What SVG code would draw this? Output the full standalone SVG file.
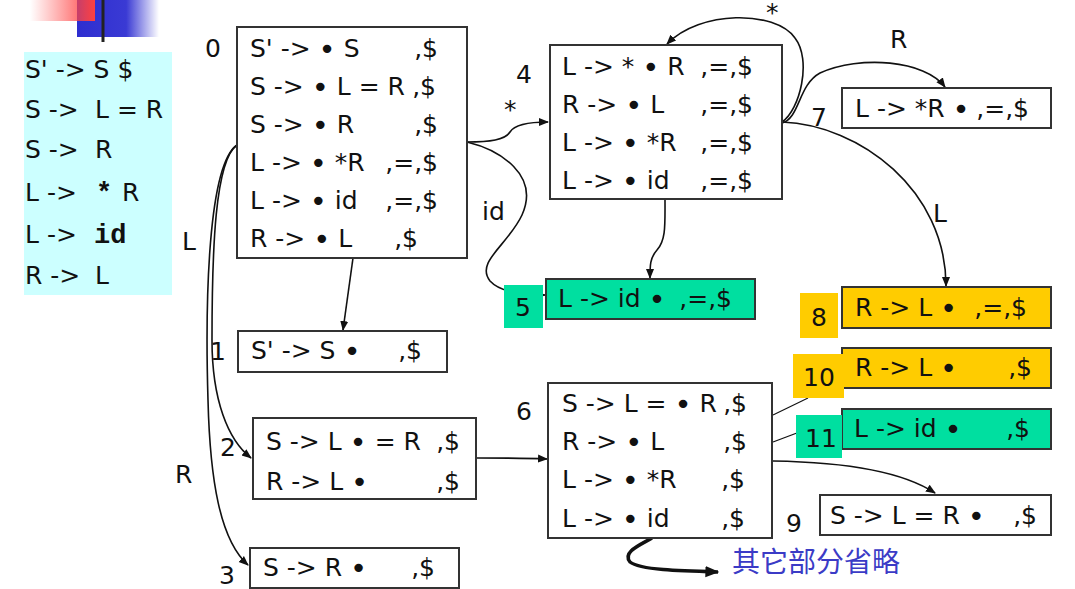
<svg xmlns="http://www.w3.org/2000/svg" width="1075" height="589" viewBox="0 0 1075 589">
<style>
.box{fill:#fff;stroke:#333;stroke-width:2}
.gold{fill:#FFCC00;stroke:#333;stroke-width:2}
.green{fill:#00DFA0;stroke:#333;stroke-width:2}
.t{font-family:"DejaVu Sans","Liberation Sans",sans-serif;font-size:25px;fill:#111}
.b{font-size:29px;baseline-shift:-2px}
.r{text-anchor:end}
.mono{font-family:"Liberation Mono","DejaVu Sans Mono",monospace;font-weight:bold;font-size:27px;fill:#111}
.edge{fill:none;stroke:#111;stroke-width:1.6;marker-end:url(#ah)}
.thin{fill:none;stroke:#111;stroke-width:1.1}
</style>
<defs>
<marker id="ah" viewBox="0 0 10 10" refX="9" refY="5" markerWidth="10" markerHeight="10" markerUnits="userSpaceOnUse" orient="auto">
<path d="M0,1 L10,5 L0,9 z" fill="#111"/>
</marker>
<marker id="ah2" viewBox="0 0 10 10" refX="9" refY="5" markerWidth="14" markerHeight="14" markerUnits="userSpaceOnUse" orient="auto">
<path d="M0,1 L10,5 L0,9 z" fill="#111"/>
</marker>
<linearGradient id="redg" x1="0" y1="0" x2="1" y2="0">
<stop offset="0" stop-color="#ff5050" stop-opacity="0"/>
<stop offset="1" stop-color="#ff4040"/>
</linearGradient>
<linearGradient id="blueg" x1="0" y1="0" x2="1" y2="0">
<stop offset="0" stop-color="#2e2ed0"/>
<stop offset="0.6" stop-color="#3a3ad4"/>
<stop offset="1" stop-color="#3a3ad4" stop-opacity="0"/>
</linearGradient>
<linearGradient id="lineg" x1="0" y1="0" x2="1" y2="0">
<stop offset="0" stop-color="#222"/>
<stop offset="0.3" stop-color="#666"/>
<stop offset="0.7" stop-color="#bbb"/>
<stop offset="1" stop-color="#fff"/>
</linearGradient>
</defs>
<rect width="1075" height="589" fill="#fff"/>

<g id="decoration">
<rect x="77" y="0" width="82" height="37" fill="url(#blueg)"/>
<rect x="30" y="0" width="65" height="21" fill="url(#redg)"/>
<line x1="65" y1="14" x2="1000" y2="14" stroke="url(#lineg)" stroke-width="3"/>
<line x1="103" y1="0" x2="103" y2="42" stroke="#222" stroke-width="3"/>
</g>

<g id="grammar">
<rect x="24" y="52" width="148" height="243" fill="#CCFFFF"/>
<text class="t" x="25" y="78">S' -&gt; S $</text>
<text class="t" x="25" y="118">S -&gt;</text><text class="t" x="95" y="118">L = R</text>
<text class="t" x="25" y="158">S -&gt;</text><text class="t" x="95" y="158">R</text>
<text class="t" x="25" y="201">L -&gt;</text><text class="mono" x="96" y="201">*</text><text class="t" x="122" y="201">R</text>
<text class="t" x="25" y="243">L -&gt;</text><text class="mono" x="94" y="243">id</text>
<text class="t" x="25" y="284">R -&gt;</text><text class="t" x="95" y="284">L</text>
</g>

<g id="connectors">
<path class="edge" d="M467,142 C490,142 505,140 510,132 C515,124 530,122 548,122"/>
<path class="edge" d="M467,142 C500,150 540,175 522,215 C508,245 475,262 490,281 C500,292 525,295 545,295"/>
<path class="edge" d="M665,199 C665,225 666,240 657,250 C650,258 650,265 650,278"/>
<path class="edge" d="M782,122 C800,110 812,60 795,38 C775,10 700,10 667,44"/>
<path class="edge" d="M782,123 C800,118 798,85 820,73 C860,55 925,60 945,87"/>
<path class="edge" d="M782,122 C860,125 946,190 946,286"/>
<path class="edge" d="M353,258 L343,330"/>
<path class="edge" d="M237,145 C215,160 212,250 212,340 C212,400 228,440 251,458"/>
<path class="edge" d="M237,145 C208,165 205,300 208,400 C210,480 220,540 248,565"/>
<path class="edge" d="M477,458 C500,458 525,458 547,459"/>
<path class="thin" d="M773,415 L808,398"/>
<path class="edge" d="M773,442 L842,416" style="stroke-width:1.3"/>
<path class="edge" d="M773,461 C840,462 900,470 935,493"/>
<path d="M652,538 C640,545 622,552 630,562 C640,570 680,571 718,572" fill="none" stroke="#111" stroke-width="3.5" marker-end="url(#ah2)"/>
</g>

<g id="edge-labels">
<text class="t" x="504" y="118">*</text>
<text class="t" x="766" y="21">*</text>
<text class="t" x="482" y="220">id</text>
<text class="t" x="890" y="48">R</text>
<text class="t" x="933" y="222">L</text>
<text class="t" x="182" y="250">L</text>
<text class="t" x="175" y="483">R</text>
</g>

<g id="state0">
<rect class="box" x="237" y="27" width="230" height="231"/>
<text class="t" x="205" y="57">0</text>
<text class="t" x="250" y="57">S' -&gt; <tspan class="b">•</tspan> S</text><text class="t r" x="438" y="57">,$</text>
<text class="t" x="250" y="95">S -&gt; <tspan class="b">•</tspan> L = R</text><text class="t r" x="436" y="95">,$</text>
<text class="t" x="250" y="133">S -&gt; <tspan class="b">•</tspan> R</text><text class="t r" x="438" y="133">,$</text>
<text class="t" x="250" y="171">L -&gt; <tspan class="b">•</tspan> *R</text><text class="t r" x="438" y="171">,=,$</text>
<text class="t" x="250" y="209">L -&gt; <tspan class="b">•</tspan> id</text><text class="t r" x="438" y="209">,=,$</text>
<text class="t" x="250" y="247">R -&gt; <tspan class="b">•</tspan> L</text><text class="t r" x="418" y="247">,$</text>
</g>

<g id="state1">
<rect class="box" x="238" y="331" width="209" height="41"/>
<text class="t" x="210" y="360">1</text>
<text class="t" x="251" y="359">S' -&gt; S <tspan class="b">•</tspan></text><text class="t r" x="422" y="359">,$</text>
</g>

<g id="state2">
<rect class="box" x="253" y="418" width="223" height="81"/>
<text class="t" x="220" y="456">2</text>
<text class="t" x="266" y="450">S -&gt; L <tspan class="b">•</tspan> = R</text><text class="t r" x="460" y="450">,$</text>
<text class="t" x="266" y="490">R -&gt; L <tspan class="b">•</tspan></text><text class="t r" x="460" y="490">,$</text>
</g>

<g id="state3">
<rect class="box" x="250" y="548" width="209" height="40"/>
<text class="t" x="219" y="584">3</text>
<text class="t" x="263" y="576">S -&gt; R <tspan class="b">•</tspan></text><text class="t r" x="435" y="576">,$</text>
</g>

<g id="state4">
<rect class="box" x="550" y="45" width="232" height="154"/>
<text class="t" x="516" y="83">4</text>
<text class="t" x="562" y="75">L -&gt; * <tspan class="b">•</tspan> R</text><text class="t r" x="753" y="75">,=,$</text>
<text class="t" x="562" y="113">R -&gt; <tspan class="b">•</tspan> L</text><text class="t r" x="753" y="113">,=,$</text>
<text class="t" x="562" y="151">L -&gt; <tspan class="b">•</tspan> *R</text><text class="t r" x="753" y="151">,=,$</text>
<text class="t" x="562" y="189">L -&gt; <tspan class="b">•</tspan> id</text><text class="t r" x="753" y="189">,=,$</text>
</g>

<g id="state5">
<rect class="green" x="546" y="279" width="209" height="40"/>
<rect x="504" y="285" width="39" height="43" fill="#00DFA0"/>
<text class="t" x="515" y="316">5</text>
<text class="t" x="558" y="307">L -&gt; id <tspan class="b">•</tspan></text><text class="t r" x="732" y="307">,=,$</text>
</g>

<g id="state6">
<rect class="box" x="548" y="383" width="224" height="155"/>
<text class="t" x="516" y="420">6</text>
<text class="t" x="562" y="412">S -&gt; L = <tspan class="b">•</tspan> R</text><text class="t r" x="747" y="412">,$</text>
<text class="t" x="562" y="450">R -&gt; <tspan class="b">•</tspan> L</text><text class="t r" x="747" y="450">,$</text>
<text class="t" x="562" y="488">L -&gt; <tspan class="b">•</tspan> *R</text><text class="t r" x="745" y="488">,$</text>
<text class="t" x="562" y="527">L -&gt; <tspan class="b">•</tspan> id</text><text class="t r" x="745" y="527">,$</text>
</g>

<g id="state7">
<rect class="box" x="842" y="88" width="209" height="40"/>
<text class="t" x="811" y="126">7</text>
<text class="t" x="855" y="117">L -&gt; *R <tspan class="b">•</tspan></text><text class="t r" x="1029" y="117">,=,$</text>
</g>

<g id="state8">
<rect class="gold" x="842" y="287" width="209" height="41"/>
<rect x="800" y="293" width="38" height="45" fill="#FFCC00"/>
<text class="t" x="811" y="326">8</text>
<text class="t" x="855" y="316">R -&gt; L <tspan class="b">•</tspan></text><text class="t r" x="1027" y="316">,=,$</text>
</g>

<g id="state10">
<rect class="gold" x="842" y="348" width="209" height="40"/>
<rect x="793" y="354" width="51" height="44" fill="#FFCC00"/>
<text class="t" x="803" y="386">10</text>
<text class="t" x="855" y="376">R -&gt; L <tspan class="b">•</tspan></text><text class="t r" x="1032" y="376">,$</text>
</g>

<g id="state11">
<rect class="green" x="842" y="409" width="209" height="40"/>
<rect x="796" y="415" width="46" height="43" fill="#00DFA0"/>
<text class="t" x="805" y="447">11</text>
<text class="t" x="854" y="437">L -&gt; id <tspan class="b">•</tspan></text><text class="t r" x="1030" y="437">,$</text>
</g>

<g id="state9">
<rect class="box" x="820" y="495" width="231" height="40"/>
<text class="t" x="786" y="532">9</text>
<text class="t" x="830" y="524">S -&gt; L = R <tspan class="b">•</tspan></text><text class="t r" x="1037" y="524">,$</text>
</g>

<g id="note">
<text x="732" y="572" font-family="Noto Sans CJK SC,sans-serif" font-size="28" fill="#3b3bc6">其它部分省略</text>
</g>
</svg>
